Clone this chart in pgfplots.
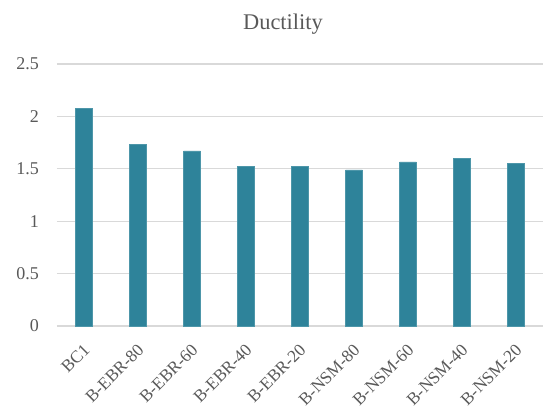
\documentclass[border=0pt]{standalone}
\usepackage{pgfplots}
\pgfplotsset{compat=1.18}
\usepackage{fontspec}
\setmainfont{Liberation Serif}
\definecolor{barteal}{HTML}{2E839A}
\definecolor{gridgray}{HTML}{D9D9D9}
\definecolor{labelgray}{HTML}{595959}
\begin{document}
\begin{tikzpicture}
\path[use as bounding box] (-42.75pt,-61.5pt) rectangle (365.25pt,244.5pt);
\begin{axis}[
  scale only axis,
  width=364.5pt, height=196.5pt,
  anchor=south west, at={(0,0)},
  ymin=0, ymax=2.5,
  ytick={0,0.5,...,2.5},
  xmin=-0.5, xmax=8.5,
  xtick=data,
  xticklabels={BC1,B-EBR-80,B-EBR-60,B-EBR-40,B-EBR-20,B-NSM-80,B-NSM-60,B-NSM-40,B-NSM-20},
  xticklabel style={rotate=45, anchor=north east, font=\rmfamily\fontsize{13}{15}\selectfont,
    text=labelgray, inner sep=2pt, xshift=-7.5pt, yshift=-6pt},
  yticklabel style={font=\rmfamily\fontsize{13.5}{16}\selectfont, text=labelgray, xshift=-10pt},
  /pgf/number format/assume math mode=true,
  ymajorgrids, grid style={gridgray, line width=0.8pt},
  axis line style={draw=none},
  major tick length=0pt,
  title={Ductility},
  title style={font=\rmfamily\fontsize{16.8}{20}\selectfont, text=labelgray, yshift=13pt, xshift=-12.75pt},
  ybar, bar width=12.5pt,
  clip=false,
]
\draw[gridgray, line width=0.8pt] (rel axis cs:0,0) -- (rel axis cs:1,0);
\addplot[fill=barteal, draw=barteal!85!white, line width=0.4pt] coordinates {
  (0,2.08) (1,1.73) (2,1.67) (3,1.52) (4,1.52) (5,1.49) (6,1.565) (7,1.60) (8,1.555)
};
\end{axis}
\end{tikzpicture}
\end{document}
